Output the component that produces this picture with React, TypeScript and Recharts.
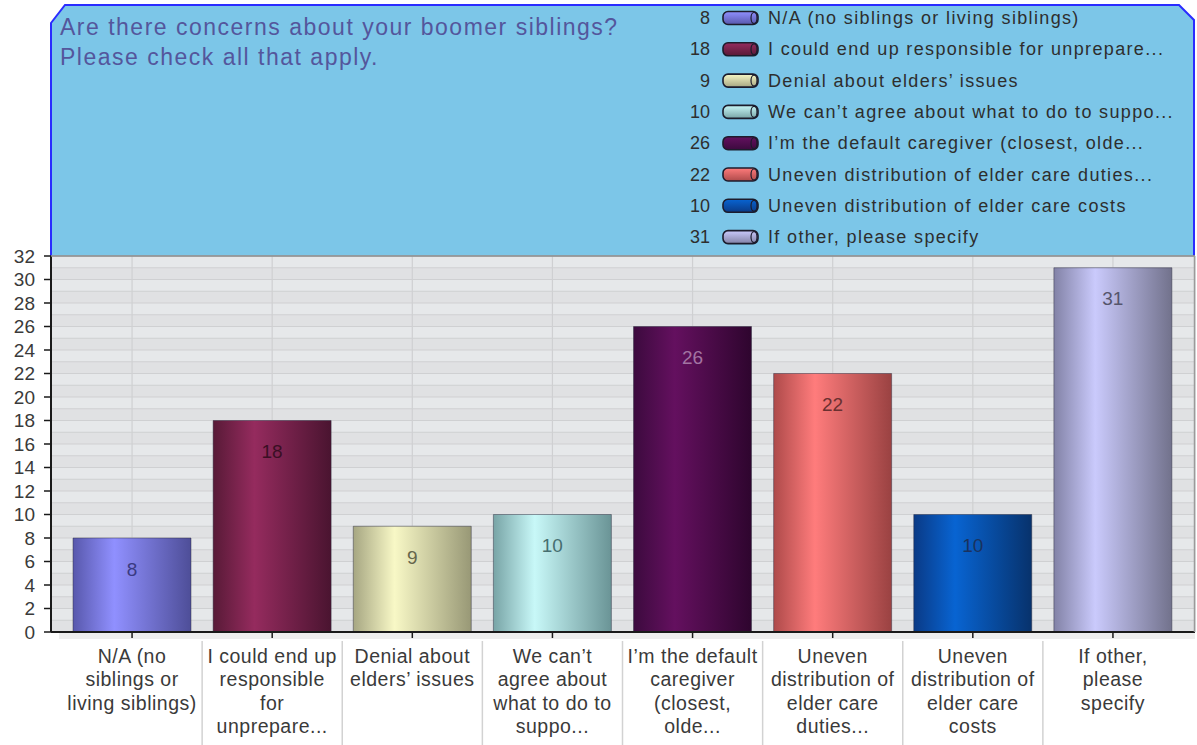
import React from 'react';
import { BarChart, Bar, XAxis, YAxis, CartesianGrid, Cell, LabelList, Legend } from 'recharts';

// ---------- data ----------
const categories = [
  'N/A (no siblings or living siblings)',
  'I could end up responsible for unprepare...',
  'Denial about elders’ issues',
  'We can’t agree about what to do to suppo...',
  'I’m the default caregiver (closest, olde...',
  'Uneven distribution of elder care duties...',
  'Uneven distribution of elder care costs',
  'If other, please specify',
];
const values = [8, 18, 9, 10, 26, 22, 10, 31];
const tickLabelLines = [
  ['N/A (no', 'siblings or', 'living siblings)'],
  ['I could end up', 'responsible', 'for', 'unprepare...'],
  ['Denial about', 'elders’ issues'],
  ['We can’t', 'agree about', 'what to do to', 'suppo...'],
  ['I’m the default', 'caregiver', '(closest,', 'olde...'],
  ['Uneven', 'distribution of', 'elder care', 'duties...'],
  ['Uneven', 'distribution of', 'elder care', 'costs'],
  ['If other,', 'please', 'specify'],
];
const yTicks = [0, 2, 4, 6, 8, 10, 12, 14, 16, 18, 20, 22, 24, 26, 28, 30, 32];
const yGridUnits = Array.from({ length: 33 }, (_, i) => i);
const titleLines = ['Are there concerns about your boomer siblings?', 'Please check all that apply.'];

// ---------- styles ----------
const barColors = [
  ['#5858ac', '#9090ff', '#4e4e98'],
  ['#581a37', '#952b5e', '#4a1430'],
  ['#a6a682', '#f8f8c6', '#989876'],
  ['#78a4a6', '#c8f8f8', '#6a9496'],
  ['#3c0a3e', '#64105f', '#2e052e'],
  ['#ae4a4a', '#ff7c7c', '#9a4242'],
  ['#0a3a86', '#0864d2', '#07326c'],
  ['#8282a6', '#cacafc', '#72728c'],
];
const labelColors = ['#3a3a82', '#3a0f24', '#66664c', '#466e70', '#a274a2', '#6a3030', '#1a325e', '#55556c'];

const FONT = '"Liberation Sans", Arial, Helvetica, sans-serif';
const W = 1197;
const H = 745;
const PLOT_LEFT = 51;
const PLOT_RIGHT = 1195;
const PLOT_TOP = 256;
const PLOT_BOTTOM = 632;
const PAD_L = 11;
const PAD_R = 12;

const data = categories.map((name, i) => ({ name, value: values[i] }));

const XTick = (props: any) => {
  const { x, y, payload } = props;
  const idx = categories.indexOf(payload.value);
  const lines = tickLabelLines[idx] || [String(payload.value)];
  const band = (PLOT_RIGHT - PLOT_LEFT - PAD_L - PAD_R) / categories.length;
  return (
    <g>
      {idx > 0 && (
        <line x1={x - band / 2} x2={x - band / 2} y1={PLOT_BOTTOM + 9} y2={H} stroke="#d2d2d2" strokeWidth={1.5} />
      )}
      <text x={x} y={y} textAnchor="middle" fill="#3a3a3a" fontSize={19.5} letterSpacing={0.5} fontFamily={FONT}>
        {lines.map((l, i) => (
          <tspan key={i} x={x} dy={i === 0 ? 23 : 23.4}>
            {l}
          </tspan>
        ))}
      </text>
    </g>
  );
};

const ValueLabel = (props: any) => {
  const { x, y, width, value, index } = props;
  return (
    <text
      x={x + width / 2}
      y={y + 31}
      textAnchor="middle"
      dominantBaseline="central"
      fontSize={19}
      fontFamily={FONT}
      fill={labelColors[index] || '#444'}
    >
      {value}
    </text>
  );
};

const LegendContent = () => (
  <svg width={505} height={250} style={{ display: 'block' }}>
    <defs>
      {barColors.map((c, i) => (
        <linearGradient key={i} id={`lg${i}`} x1="0" y1="0" x2="0" y2="1">
          <stop offset="0%" stopColor={c[1]} />
          <stop offset="100%" stopColor={c[0]} />
        </linearGradient>
      ))}
    </defs>
    {categories.map((c, i) => {
      const cy = 18 + i * 31.3;
      return (
        <g key={i}>
          <text x={20} y={cy} textAnchor="end" dominantBaseline="central" fontSize={18} fontFamily={FONT} fill="#2e2e2e">
            {values[i]}
          </text>
          <rect x={33} y={cy - 6.5} width={35} height={13} rx={5} fill={`url(#lg${i})`} stroke="#1c1c2c" strokeWidth={1.6} />
          <ellipse cx={64} cy={cy} rx={3} ry={5.5} fill="none" stroke="#1c1c2c" strokeWidth={1.2} />
          <text x={78} y={cy} dominantBaseline="central" fontSize={18} letterSpacing={1.35} fontFamily={FONT} fill="#2e2e2e">
            {c}
          </text>
        </g>
      );
    })}
  </svg>
);

export default function App() {
  return (
    <div style={{ position: 'absolute', left: 0, top: 0, width: W, height: H, background: '#ffffff', overflow: 'hidden' }}>
      {/* header panel behind chart */}
      <svg width={W} height={H} style={{ position: 'absolute', left: 0, top: 0 }}>
        <polygon
          points={`${PLOT_LEFT},23 65,5 1179,5 ${PLOT_RIGHT - 1},20 ${PLOT_RIGHT - 1},${PLOT_TOP} ${PLOT_LEFT},${PLOT_TOP}`}
          fill="#7cc6e8"
        />
        <polyline
          points={`${PLOT_LEFT},${PLOT_TOP} ${PLOT_LEFT},23 65,5 1179,5 ${PLOT_RIGHT - 1},20 ${PLOT_RIGHT - 1},${PLOT_TOP}`}
          fill="none"
          stroke="#2a2cff"
          strokeWidth={2}
        />
        {titleLines.map((t, i) => (
          <text key={i} x={60} y={35 + i * 30} fontSize={23} letterSpacing={1.5} fontFamily={FONT} fill="#54569c">
            {t}
          </text>
        ))}
        {/* faint shadow below the category axis */}
        <rect x={PLOT_LEFT + 8} y={PLOT_BOTTOM + 1} width={PLOT_RIGHT - PLOT_LEFT - 8} height={6} fill="#eeeeee" />
      </svg>
      <div style={{ position: 'absolute', left: 0, top: 0 }}>
        <BarChart
          width={W}
          height={H}
          data={data}
          margin={{ top: PLOT_TOP, right: W - PLOT_RIGHT, bottom: 0, left: 11 }}
          barSize={118}
        >
          <defs>
            {barColors.map((c, i) => (
              <linearGradient key={i} id={`bg${i}`} x1="0" y1="0" x2="1" y2="0">
                <stop offset="0%" stopColor={c[0]} />
                <stop offset="35%" stopColor={c[1]} />
                <stop offset="100%" stopColor={c[2]} />
              </linearGradient>
            ))}
          </defs>
          <CartesianGrid
            stroke="#cfd0d2"
            strokeWidth={1.2}
            fill="#e3e4e6"
            horizontalFill={['#e6e8ea', '#e0e1e3']}
            horizontalCoordinatesGenerator={({ offset }: any) =>
              yGridUnits.map((v) => offset.top + offset.height * (1 - v / 32))
            }
          />
          <XAxis
            dataKey="name"
            interval={0}
            padding={{ left: PAD_L, right: PAD_R }}
            height={H - PLOT_BOTTOM}
            axisLine={{ stroke: '#1a1a1a', strokeWidth: 2 }}
            tickLine={{ stroke: '#1a1a1a', strokeWidth: 1.5 }}
            tickSize={6}
            tickMargin={2}
            tick={<XTick />}
          />
          <YAxis
            domain={[0, 32]}
            ticks={yTicks}
            interval={0}
            width={40}
            axisLine={{ stroke: '#1a1a1a', strokeWidth: 2 }}
            tickLine={{ stroke: '#1a1a1a', strokeWidth: 1.5 }}
            tickSize={7}
            tickMargin={9}
            tick={{ fontSize: 19, fill: '#3a3a3a', fontFamily: FONT }}
          />
          <Legend
            layout="vertical"
            align="center"
            verticalAlign="middle"
            content={<LegendContent />}
            wrapperStyle={{ position: 'absolute', left: 690, top: 0, width: 505, height: 250 }}
          />
          <Bar dataKey="value" isAnimationActive={false}>
            {data.map((d, i) => (
              <Cell key={i} fill={`url(#bg${i})`} stroke="rgba(40,40,60,0.45)" strokeWidth={1} />
            ))}
            <LabelList dataKey="value" content={<ValueLabel />} />
          </Bar>
        </BarChart>
      </div>
      {/* plot frame overlay */}
      <svg width={W} height={H} style={{ position: 'absolute', left: 0, top: 0, pointerEvents: 'none' }}>
        <line x1={PLOT_LEFT} x2={PLOT_RIGHT} y1={PLOT_TOP} y2={PLOT_TOP} stroke="#8a8a8a" strokeWidth={1.5} />
        <line x1={PLOT_RIGHT - 0.5} x2={PLOT_RIGHT - 0.5} y1={PLOT_TOP} y2={PLOT_BOTTOM} stroke="#9a9a9a" strokeWidth={1.5} />
      </svg>
    </div>
  );
}
